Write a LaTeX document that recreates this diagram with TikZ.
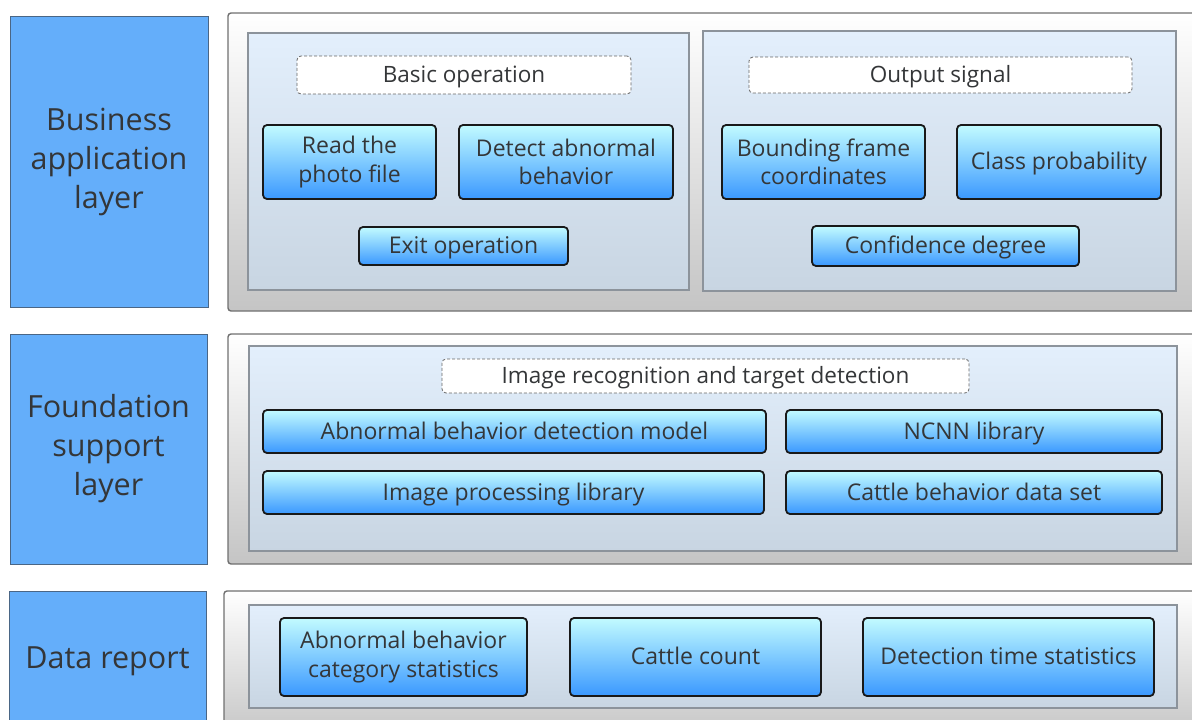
\documentclass[tikz,border=0pt]{standalone}
\usepackage{fontspec}
\setmainfont{Open Sans}
\definecolor{layerblue}{HTML}{64AEFA}
\definecolor{layerline}{HTML}{4A6685}
\definecolor{txtgray}{HTML}{343638}
\definecolor{panelline}{HTML}{707070}
\definecolor{subline}{HTML}{8C939B}
\definecolor{subtop}{HTML}{E3EFFC}
\definecolor{subbot}{HTML}{C8D5E2}
\definecolor{btntop}{HTML}{C2FBFF}
\definecolor{btnbot}{HTML}{3A98FF}
\tikzset{
  layerbox/.style={draw=layerline, line width=1pt, fill=layerblue, text=txtgray,
    align=center, inner sep=0pt, font=\fontsize{30.5}{39}\selectfont},
  panel/.style={draw=panelline, line width=1.4pt, rounded corners=3pt,
    top color=white, bottom color=black!23},
  subpanel/.style={draw=subline, line width=1.6pt, top color=subtop, bottom color=subbot},
  titlebox/.style={draw=black!60, dashed, dash pattern=on 3pt off 2pt, line width=0.8pt,
    fill=white, rounded corners=4pt, text=txtgray, inner sep=0pt,
    text height=17pt, text depth=2pt, font=\fontsize{22.5}{26}\selectfont},
  btn/.style={draw=black!90, line width=1.8pt, rounded corners=4pt, top color=btntop,
    bottom color=btnbot, text=txtgray, align=center, inner sep=0pt,
    font=\fontsize{23}{28.5}\selectfont},
  oneline/.style={text height=17pt, text depth=2pt},
}
\begin{document}
\begin{tikzpicture}[x=1pt, y=-1pt]
\useasboundingbox (0,0) rectangle (1192,720);
\clip (0,0) rectangle (1192,720);
% layer labels
\node[layerbox, minimum width=198pt, minimum height=291pt] (bizlayer) at (109,161.5) {Business\\application\\layer};
\node[layerbox, minimum width=197pt, minimum height=230pt] (fndlayer) at (108.5,449) {Foundation\\support\\layer};
\node[layerbox, minimum width=197pt, minimum height=140pt, text height=20pt, text depth=6pt] (datlayer) at (107.5,661) {Data report};
% gray panels
\draw[panel] (228,13) rectangle (1205,311);
\draw[panel] (228,334) rectangle (1205,564);
\draw[panel] (224,591) rectangle (1205,740);
% inner panels
\draw[subpanel] (248,33) rectangle (689,290);
\draw[subpanel] (703,31) rectangle (1176,291);
\draw[subpanel] (249,346) rectangle (1177,551);
\draw[subpanel] (249,605) rectangle (1177,708);
% business application layer
\node[titlebox, minimum width=334pt, minimum height=38pt] (basicop) at (464,75) {Basic operation};
\node[btn, minimum width=173pt, minimum height=74pt] (readfile) at (349.5,162) {Read the\\photo file};
\node[btn, minimum width=214pt, minimum height=74pt] (detect) at (566,162) {Detect abnormal\\behavior};
\node[btn, oneline, minimum width=209pt, minimum height=38pt] (exitop) at (463.5,246) {Exit operation};
\node[titlebox, minimum width=383pt, minimum height=36pt] (outsig) at (940.5,75) {Output signal};
\node[btn, minimum width=203pt, minimum height=74pt] (bbox) at (823.5,162) {Bounding frame\\coordinates};
\node[btn, oneline, minimum width=204pt, minimum height=74pt] (classprob) at (1059,162) {Class probability};
\node[btn, oneline, minimum width=267pt, minimum height=40pt] (confdeg) at (945.5,246) {Confidence degree};
% foundation support layer
\node[titlebox, minimum width=527pt, minimum height=34pt] (imgrec) at (705.5,376) {Image recognition and target detection};
\node[btn, oneline, minimum width=503pt, minimum height=43pt] (abmodel) at (514.5,431.5) {Abnormal behavior detection model};
\node[btn, oneline, minimum width=376pt, minimum height=43pt] (ncnn) at (974,431.5) {NCNN library};
\node[btn, oneline, minimum width=501pt, minimum height=43pt] (imgproc) at (513.5,492.5) {Image processing library};
\node[btn, oneline, minimum width=376pt, minimum height=43pt] (dataset) at (974,492.5) {Cattle behavior data set};
% data report
\node[btn, minimum width=247pt, minimum height=78pt] (catstat) at (403.5,657) {Abnormal behavior\\category statistics};
\node[btn, oneline, minimum width=251pt, minimum height=78pt] (cattlecnt) at (695.5,657) {Cattle count};
\node[btn, oneline, minimum width=291pt, minimum height=78pt] (timestat) at (1008.5,657) {Detection time statistics};
\end{tikzpicture}
\end{document}
